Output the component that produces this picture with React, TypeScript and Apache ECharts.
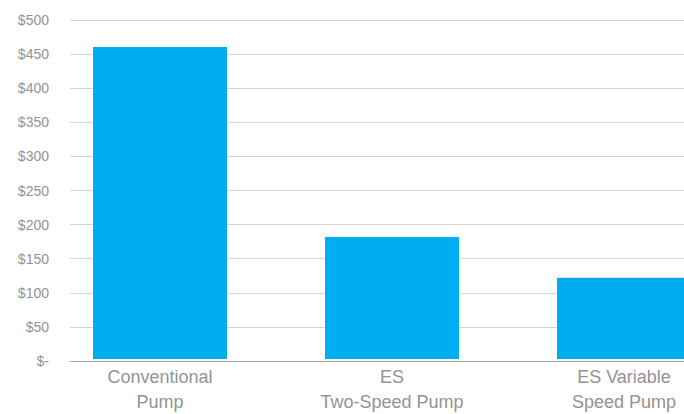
import React, { useEffect, useRef } from "react";
import * as echarts from "echarts";

const categories = ["Conventional\nPump", "ES\nTwo-Speed Pump", "ES Variable\nSpeed Pump"];
const costs = [460, 180, 120];
const yTickValues = [0, 50, 100, 150, 200, 250, 300, 350, 400, 450, 500];
const yTickLabels = ["$-", "$50", "$100", "$150", "$200", "$250", "$300", "$350", "$400", "$450", "$500"];

export default function App() {
  const ref = useRef<HTMLDivElement>(null);
  useEffect(() => {
    if (!ref.current) return;
    const chart = echarts.init(ref.current, undefined, { renderer: "svg" });
    const font = "'Liberation Sans', Arial, sans-serif";
    chart.setOption({
      animation: false,
      backgroundColor: "#ffffff",
      grid: [
        { left: 70, top: 20, width: 690, height: 341, containLabel: false },
        { left: 44, top: 20, width: 696, height: 341, containLabel: false },
      ],
      xAxis: [
        {
          gridIndex: 0,
          type: "value",
          min: 0,
          max: 1,
          axisLine: { show: true, lineStyle: { color: "#a8a8a8", width: 1 } },
          axisTick: { show: false },
          axisLabel: { show: false },
          splitLine: { show: false },
        },
        {
          gridIndex: 1,
          type: "category",
          data: categories,
          axisLine: { show: false },
          axisTick: { show: false },
          splitLine: { show: false },
          axisLabel: {
            color: "#939393",
            fontFamily: font,
            fontSize: 18,
            lineHeight: 25,
            margin: 5,
            interval: 0,
          },
        },
      ],
      yAxis: [
        {
          gridIndex: 0,
          type: "value",
          min: yTickValues[0],
          max: yTickValues[yTickValues.length - 1],
          interval: yTickValues[1] - yTickValues[0],
          axisLine: { show: false },
          axisTick: { show: false },
          splitLine: { show: true, lineStyle: { color: "#d6d6d6", width: 1 } },
          axisLabel: {
            color: "#939393",
            fontFamily: font,
            fontSize: 14,
            margin: 21,
            formatter: (v: number) => {
              const i = yTickValues.indexOf(v);
              return i >= 0 ? yTickLabels[i] : "";
            },
          },
        },
        {
          gridIndex: 1,
          type: "value",
          min: yTickValues[0],
          max: yTickValues[yTickValues.length - 1],
          show: false,
          splitLine: { show: false },
        },
      ],
      series: [
        {
          type: "bar",
          xAxisIndex: 1,
          yAxisIndex: 1,
          data: costs,
          barWidth: 134,
          itemStyle: { color: "#00aeef" },
          z: 3,
        },
      ],
    });
    return () => chart.dispose();
  }, []);
  return (
    <div style={{ position: "fixed", left: 0, top: 0, width: 684, height: 414, overflow: "hidden", background: "#fff" }}>
      <div ref={ref} style={{ position: "absolute", left: 0, top: 0, width: 760, height: 414 }} />
    </div>
  );
}
